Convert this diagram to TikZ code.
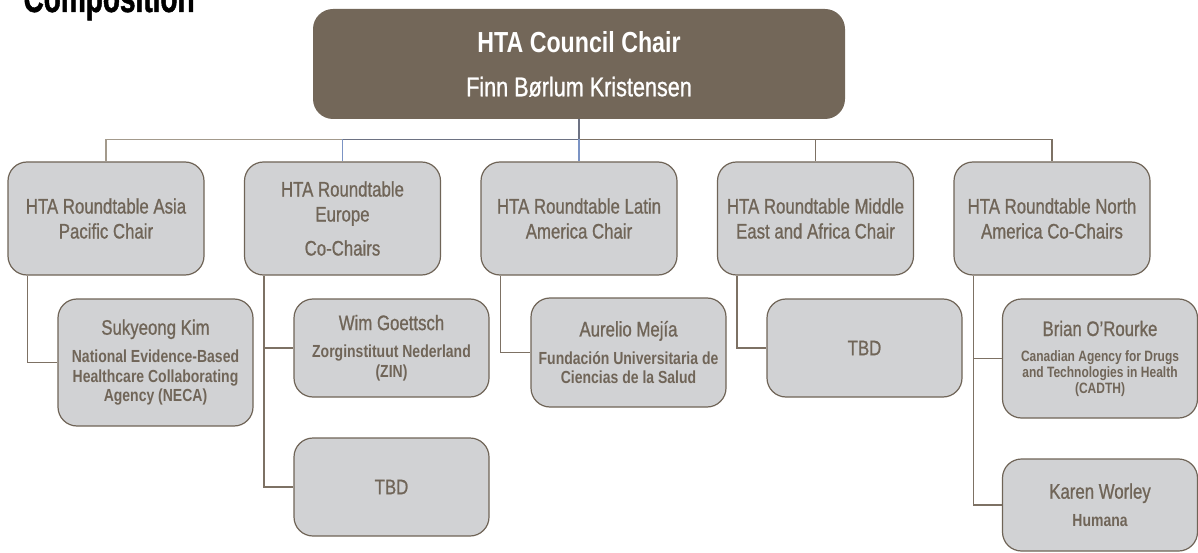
\documentclass[tikz,border=0pt]{standalone}
\usepackage{fontspec}
\setmainfont{Liberation Sans}[FakeStretch=0.8, UprightFeatures={FakeBold=0.9}]
\newfontfamily\headfont{Liberation Sans}[FakeStretch=0.7, BoldFeatures={FakeBold=1.2}]

\definecolor{chairfill}{HTML}{736759}
\definecolor{boxfill}{HTML}{D1D2D4}
\definecolor{boxline}{HTML}{6F6457}
\definecolor{boxtext}{HTML}{706558}
\definecolor{linebrown}{HTML}{7D7164}
\definecolor{linelight}{HTML}{A39A8C}
\definecolor{lineslate}{HTML}{6D7283}
\definecolor{lineblue}{HTML}{7B93C4}

\newcommand{\rtfont}{\fontsize{21}{25}\selectfont}
\newcommand{\namefont}{\mdseries\fontsize{21}{25}\selectfont}
\newcommand{\orgfont}{\bfseries\fontsize{17.5}{19.7}\selectfont}
\newcommand{\smallorgfont}{\bfseries\fontsize{15}{15.7}\selectfont}

\newcommand{\branch}[2]{([xshift=20pt]#1.south west) |- (#2.west)}

\tikzset{
  chairbox/.style={fill=chairfill, draw=none, rounded corners=20pt, text=white,
    minimum width=532pt, minimum height=110pt, align=center, inner sep=0pt,
    font=\fontsize{27}{32}\selectfont},
  rtbox/.style={fill=boxfill, draw=boxline, line width=1.2pt, rounded corners=19pt,
    text=boxtext, minimum width=196pt, minimum height=113pt, align=center,
    inner sep=0pt, font=\rtfont},
  personbox/.style={fill=boxfill, draw=boxline, line width=1.2pt, rounded corners=19pt,
    text=boxtext, minimum width=195pt, align=center, inner sep=0pt, font=\orgfont},
  link/.style={draw=linebrown, line width=1.3pt}
}

\begin{document}
\begin{tikzpicture}[x=1pt, y=-1pt]
        \useasboundingbox (0,0) rectangle (1198,553);
        \clip (0,0) rectangle (1198,553);

        \node[anchor=base west, font=\headfont\bfseries\fontsize{40}{44}\selectfont] (ttl) at (20,12) {Composition};

        % council chair
        \node[chairbox] (chair) at (579, 64)
          {{\bfseries\fontsize{29}{32}\selectfont HTA Council Chair}\\[12pt]Finn Børlum Kristensen};

        % roundtable chairs
        \node[rtbox] (rtasia) at (106, 218.5) {HTA Roundtable Asia\\Pacific Chair};
        \node[rtbox] (rteur) at (342.5, 218.5) {HTA Roundtable\\Europe\\[9pt]Co-Chairs};
        \node[rtbox] (rtlat) at (579, 218.5) {HTA Roundtable Latin\\America Chair};
        \node[rtbox] (rtmea) at (815.5, 218.5) {HTA Roundtable Middle\\East and Africa Chair};
        \node[rtbox] (rtnam) at (1052, 218.5) {HTA Roundtable North\\America Co-Chairs};

        % members
        \node[personbox, minimum height=127pt] (kim) at (155.5, 362.5)
          {{\namefont Sukyeong Kim}\\[8pt]National Evidence-Based\\Healthcare Collaborating\\Agency (NECA)};
        \node[personbox, minimum height=98pt] (wim) at (391.5, 348)
          {{\namefont Wim Goettsch}\\[8pt]Zorginstituut Nederland\\(ZIN)};
        \node[personbox, minimum height=98pt] (eutbd) at (391.5, 487) {\namefont TBD};
        \node[personbox, minimum height=109pt] (mejia) at (628.5, 352.5)
          {{\namefont Aurelio Mejía}\\[8pt]Fundación Universitaria de\\Ciencias de la Salud};
        \node[personbox, minimum height=98pt] (meatbd) at (864.5, 348) {\namefont TBD};
        \node[personbox, minimum height=119pt, font=\smallorgfont] (orourke) at (1100, 358.5)
          {{\namefont Brian O’Rourke}\\[10pt]Canadian Agency for Drugs\\and Technologies in Health\\(CADTH)};
        \node[personbox, minimum height=92pt] (worley) at (1100, 505)
          {{\namefont Karen Worley}\\[8pt]Humana};

        \coordinate (bus) at (579, 139.5);

        \draw[link, draw=linelight] (bus) -| (rtasia.north);
        \draw[link, draw=lineslate] (bus) -| (rteur.north);
        \draw[link, draw=lineblue] (rteur.north) -- (rteur.north |- bus);
        \draw[link] (bus) -| (rtmea.north);
        \draw[link] (bus) -| (rtnam.north);
        \draw[link, draw=lineblue] (bus) -- (rtlat.north);
        \draw[link, draw=lineslate] (chair.south) -- (bus);

        \draw[link] \branch{rtasia}{kim} \branch{rteur}{wim} \branch{rteur}{eutbd}
          \branch{rtlat}{mejia} \branch{rtmea}{meatbd} \branch{rtnam}{orourke} \branch{rtnam}{worley};

    \end{tikzpicture}
\end{document}
